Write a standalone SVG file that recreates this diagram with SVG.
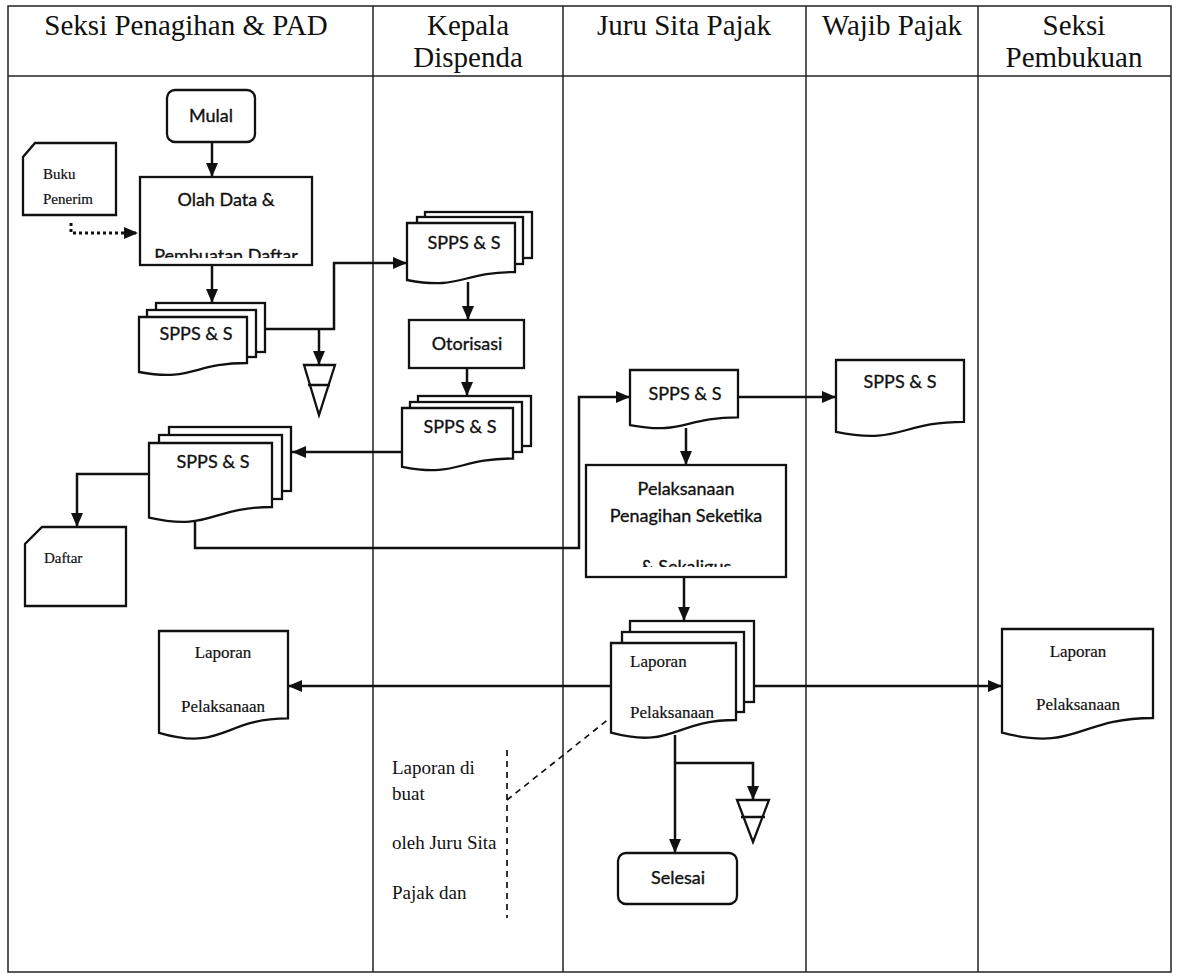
<svg xmlns="http://www.w3.org/2000/svg" width="1177" height="978" viewBox="0 0 1177 978">
<defs>
<marker id="ah" markerUnits="userSpaceOnUse" markerWidth="14" markerHeight="12" refX="14" refY="6" orient="auto">
<path d="M0,0 L14,6 L0,12 Z" fill="#111"/>
</marker>
<clipPath id="clipOlah"><rect x="140" y="177" width="172" height="81"/></clipPath>
<clipPath id="clipPel"><rect x="586" y="465" width="200" height="102"/></clipPath>
<style>
.lane{fill:none;stroke:#222;stroke-width:1.5}
.sh{fill:#fff;stroke:#111;stroke-width:2.3}
.cn{fill:none;stroke:#111;stroke-width:2.5}
.dot{fill:none;stroke:#111;stroke-width:3;stroke-dasharray:3 3}
.dash{fill:none;stroke:#111;stroke-width:1.7;stroke-dasharray:6 5}
.hd{font-family:"Liberation Serif","Times New Roman",serif;font-size:29px;fill:#111;text-anchor:middle}
.sn{font-family:Lato,"Liberation Sans",sans-serif;font-size:18px;fill:#111;stroke:#111;stroke-width:0.35;text-anchor:middle}
.sf{font-family:"Liberation Serif","Times New Roman",serif;font-size:17px;fill:#111;stroke:#111;stroke-width:0.2}
.sfs{font-family:"Liberation Serif","Times New Roman",serif;font-size:15px;fill:#111;stroke:#111;stroke-width:0.2}
.an{font-family:"Liberation Serif","Times New Roman",serif;font-size:19px;fill:#111}
.mid{text-anchor:middle}
</style>
</defs>
<rect width="1177" height="978" fill="#fff"/>
<g id="lanes">
<rect class="lane" x="8" y="6" width="1163" height="966"/>
<line class="lane" x1="8" y1="76" x2="1171" y2="76"/>
<line class="lane" x1="373" y1="6" x2="373" y2="972"/>
<line class="lane" x1="563" y1="6" x2="563" y2="972"/>
<line class="lane" x1="806" y1="6" x2="806" y2="972"/>
<line class="lane" x1="978" y1="6" x2="978" y2="972"/>
<text class="hd" x="186" y="35">Seksi Penagihan &amp; PAD</text>
<text class="hd" x="468" y="35">Kepala</text>
<text class="hd" x="468" y="67">Dispenda</text>
<text class="hd" x="684" y="35">Juru Sita Pajak</text>
<text class="hd" x="892" y="35">Wajib Pajak</text>
<text class="hd" x="1074" y="35">Seksi</text>
<text class="hd" x="1074" y="67">Pembukuan</text>
</g>
<g id="connectors">
<path class="cn" d="M212,142 V177" marker-end="url(#ah)"/>
<path class="dot" d="M71,223 V233 H138" marker-end="url(#ah)"/>
<path class="cn" d="M212,265 V303" marker-end="url(#ah)"/>
<path class="cn" d="M255,329 H334 V263 H407" marker-end="url(#ah)"/>
<path class="cn" d="M319,329 V365" marker-end="url(#ah)"/>
<path class="cn" d="M468,282 V320" marker-end="url(#ah)"/>
<path class="cn" d="M467,368 V396" marker-end="url(#ah)"/>
<path class="cn" d="M405,452 H292" marker-end="url(#ah)"/>
<path class="cn" d="M152,474 H77 V527" marker-end="url(#ah)"/>
<path class="cn" d="M195,515 V548 H579 V397 H630" marker-end="url(#ah)"/>
<path class="cn" d="M736,397 H836" marker-end="url(#ah)"/>
<path class="cn" d="M686,428 V465" marker-end="url(#ah)"/>
<path class="cn" d="M684,577 V621" marker-end="url(#ah)"/>
<path class="cn" d="M614,686 H288" marker-end="url(#ah)"/>
<path class="cn" d="M752,686 H1002" marker-end="url(#ah)"/>
<path class="cn" d="M675,735 V853" marker-end="url(#ah)"/>
<path class="cn" d="M675,763 H753 V800" marker-end="url(#ah)"/>
<path class="dash" d="M507,750 V918"/>
<path class="dash" d="M507,800 L610,718"/>
</g>
<g id="mulai">
<rect class="sh" x="167" y="90" width="88" height="52" rx="8"/>
<text class="sn" x="211" y="122">Mulal</text>
</g>
<g id="buku">
<path class="sh" d="M35,143 H116 V215 H23 V157 Z"/>
<text class="sfs" x="43" y="179">Buku</text>
<text class="sfs" x="43" y="204">Penerim</text>
</g>
<g id="olah">
<rect class="sh" x="140" y="177" width="172" height="88"/>
<text class="sn" x="226" y="206">Olah Data &amp;</text>
<text class="sn" x="226" y="262" clip-path="url(#clipOlah)">Pembuatan Daftar</text>
</g>
<g id="spps1">
<rect class="sh" x="156" y="303" width="109" height="49"/>
<rect class="sh" x="147" y="310" width="109" height="47"/>
<path class="sh" d="M139,317 H247 V363 C193,363 193,382 139,372 Z"/>
<text class="sn" x="196" y="340">SPPS &amp; S</text>
</g>
<g id="arsip1">
<path class="sh" d="M304,365 H335 L319,415 Z" stroke-width="3"/>
<line class="cn" x1="308" y1="385" x2="330" y2="385" stroke-width="3"/>
</g>
<g id="spps2">
<rect class="sh" x="425" y="212" width="107" height="46"/>
<rect class="sh" x="417" y="217" width="106" height="47"/>
<path class="sh" d="M407,223 H515 V272 C461,272 461,290.5 407,280 Z"/>
<text class="sn" x="464" y="249">SPPS &amp; S</text>
</g>
<g id="otorisasi">
<rect class="sh" x="409" y="320" width="115" height="48"/>
<text class="sn" x="467" y="350">Otorisasi</text>
</g>
<g id="spps3">
<rect class="sh" x="418" y="396" width="113" height="50"/>
<rect class="sh" x="410" y="402" width="112" height="50"/>
<path class="sh" d="M402,408 H513 V458.5 C457.5,458.5 457.5,477.7 402,466.8 Z"/>
<text class="sn" x="460" y="433">SPPS &amp; S</text>
</g>
<g id="spps4">
<rect class="sh" x="169" y="427" width="122" height="64"/>
<rect class="sh" x="159" y="435" width="123" height="64"/>
<path class="sh" d="M149,443 H272 V507 C210.5,507 210.5,531.6 149,517.7 Z"/>
<text class="sn" x="213" y="468">SPPS &amp; S</text>
</g>
<g id="daftar">
<path class="sh" d="M42,527 H126 V606 H25 V544 Z"/>
<text class="sfs" x="44" y="563">Daftar</text>
</g>
<g id="spps5">
<path class="sh" d="M630,370 H738 V417.3 C684,417.3 684,435.3 630,425.1 Z"/>
<text class="sn" x="685" y="400">SPPS &amp; S</text>
</g>
<g id="spps6">
<path class="sh" d="M836,360 H964 V421.8 C900,421.8 900,445.2 836,431.9 Z"/>
<text class="sn" x="900" y="388">SPPS &amp; S</text>
</g>
<g id="pelaksanaan">
<rect class="sh" x="586" y="465" width="200" height="112"/>
<text class="sn" x="686" y="495">Pelaksanaan</text>
<text class="sn" x="686" y="522">Penagihan Seketika</text>
<text class="sn" x="686" y="573" clip-path="url(#clipPel)">&amp; Sekaligus</text>
</g>
<g id="laporan1">
<rect class="sh" x="630" y="621" width="124" height="81"/>
<rect class="sh" x="622" y="632" width="122" height="80"/>
<path class="sh" d="M611,643 H736 V720 C673.5,720 673.5,749.3 611,732.7 Z"/>
<text class="sf" x="630" y="667">Laporan</text>
<text class="sf" x="630" y="718">Pelaksanaan</text>
</g>
<g id="laporan2">
<path class="sh" d="M159,631 H288 V718.4 C223.5,718.4 223.5,751.7 159,732.8 Z"/>
<text class="sf mid" x="223" y="658">Laporan</text>
<text class="sf mid" x="223" y="712">Pelaksanaan</text>
</g>
<g id="laporan3">
<path class="sh" d="M1002,629 H1153 V718 C1077.5,718 1077.5,751.9 1002,732.7 Z"/>
<text class="sf mid" x="1078" y="657">Laporan</text>
<text class="sf mid" x="1078" y="710">Pelaksanaan</text>
</g>
<g id="arsip2">
<path class="sh" d="M737,800 H769 L753,842 Z" stroke-width="3"/>
<line class="cn" x1="741" y1="817" x2="765" y2="817" stroke-width="3"/>
</g>
<g id="selesai">
<rect class="sh" x="618" y="853" width="119" height="51" rx="8"/>
<text class="sn" x="678" y="884">Selesai</text>
</g>
<g id="catatan">
<text class="an" x="392" y="774">Laporan di</text>
<text class="an" x="392" y="800">buat</text>
<text class="an" x="392" y="849">oleh Juru Sita</text>
<text class="an" x="392" y="899">Pajak dan</text>
</g>
</svg>
